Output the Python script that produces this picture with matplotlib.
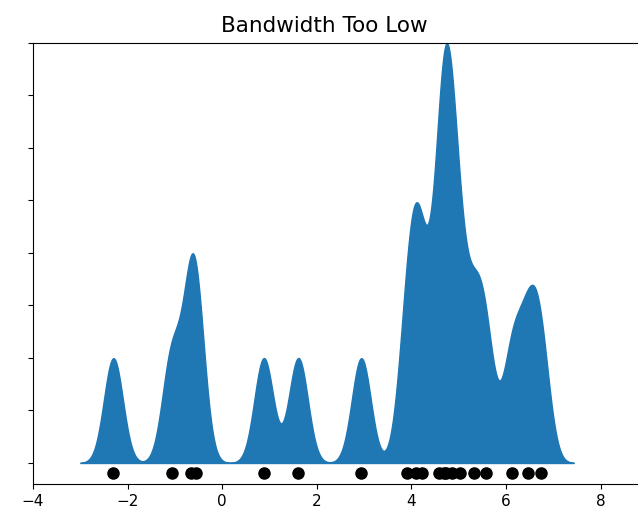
from matplotlib import pyplot as plt
import numpy as np

# sample points
points = [-2.30, -1.07, -0.66, -0.55, 0.88, 1.61, 2.94,
          3.90, 4.09, 4.23, 4.59, 4.68, 4.74, 4.85, 5.02, 5.32, 5.57,
          6.13, 6.47, 6.73]
bandwidth = 0.2
x_ticks = [-4, -2, 0, 2, 4, 6, 8]
y_ticks = np.arange(0, 0.41, 0.05)

# gaussian kernel density with a narrow bandwidth
x = np.array(points)
x_d = np.linspace(x.min() - 0.7, x.max() + 0.7, 2000)
density = np.exp(-0.5 * ((x_d[:, None] - x[None, :]) / bandwidth) ** 2).sum(axis=1)
density /= len(x) * bandwidth * np.sqrt(2 * np.pi)

fig = plt.figure(figsize=(6.38, 5.17), dpi=100)
ax = fig.add_axes([33 / 638, 33 / 517, 615 / 638, 441.3 / 517])

ax.fill_between(x_d, density, color='#1f77b4')
ax.plot(x, np.full_like(x, -0.01), 'ok', markersize=8)

ax.set_xlim(-4, 9)
ax.set_ylim(-0.02, 0.4)
ax.set_xticks(x_ticks)
ax.set_yticks(y_ticks)
ax.set_yticklabels([])
ax.tick_params(labelsize=11)
ax.set_title("Bandwidth Too Low", fontsize=15.5, pad=8, x=0.474)

fig.savefig("out.png")
